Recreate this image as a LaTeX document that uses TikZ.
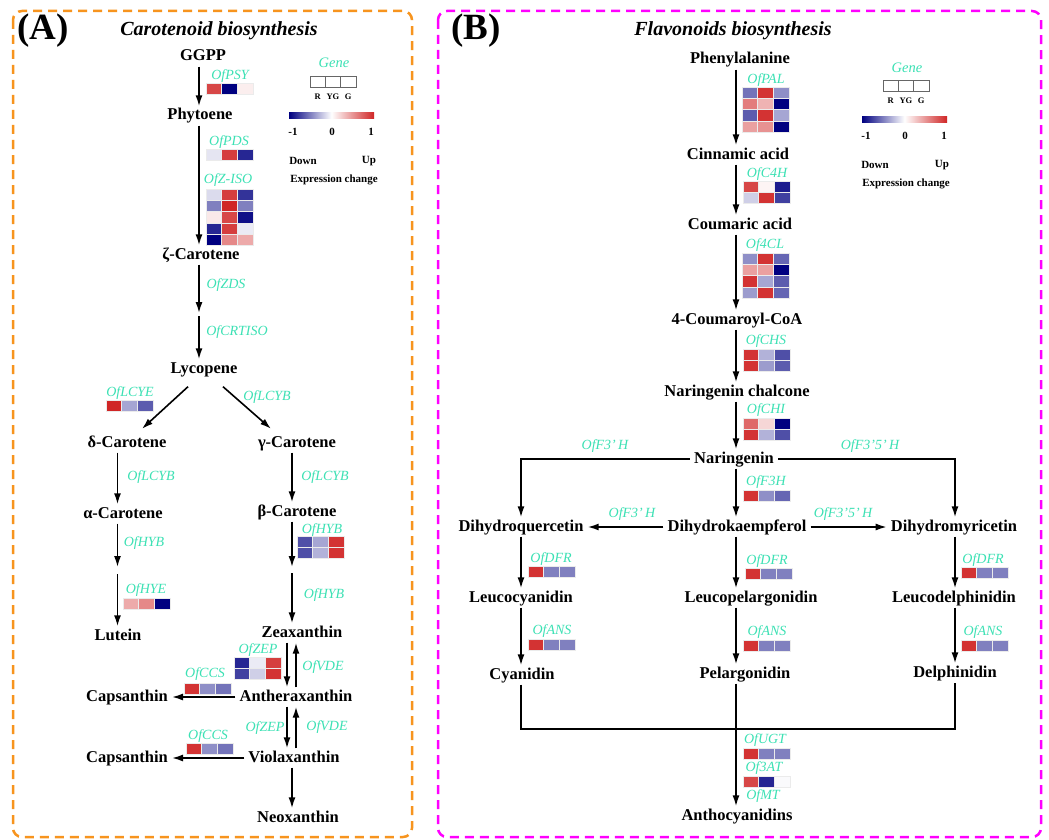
\documentclass[tikz,border=0pt]{standalone}
\usepackage{fontspec}
\setmainfont{Liberation Serif}
\usetikzlibrary{arrows.meta,calc}
\definecolor{hi}{RGB}{208,38,38}
\definecolor{lo}{RGB}{0,0,128}
\definecolor{genecol}{RGB}{60,225,180}
\definecolor{orangeB}{RGB}{247,148,30}
\definecolor{magB}{RGB}{255,0,255}
\newcommand\heatmap[3]{%
  \foreach \hrow [count=\hr from 0] in {#3} {%
    \foreach \hv [count=\hc from 0] in \hrow {%
      \pgfmathsetmacro\hx{#1+\hc*15.6}%
      \pgfmathsetmacro\hy{#2+\hr*11.3}%
      \pgfmathtruncatemacro\hp{abs(\hv)*100}%
      \pgfmathtruncatemacro\hneg{\hv<0 ? 1 : 0}%
      \ifnum\hneg=1 \def\hcol{lo}\else\def\hcol{hi}\fi
      \fill[fill=\hcol!\hp!white] (\hx,\hy) rectangle ++(15.6,11.3);
      \draw[black!8,line width=0.4pt] (\hx,\hy) rectangle ++(15.6,11.3);
    }%
  }%
}
\begin{document}
\begin{tikzpicture}[x=1pt,y=-1pt,
  met/.style={font=\fontsize{16.5}{18}\selectfont\bfseries, inner xsep=4pt, inner ysep=2pt, text height=11.5pt, text depth=3.5pt},
  gene/.style={font=\fontsize{14}{16}\selectfont\itshape, text=genecol, inner sep=0pt},
  leg/.style={font=\fontsize{11}{13}\selectfont\bfseries, inner sep=0pt},
  tiny/.style={font=\fontsize{8.5}{10}\selectfont\bfseries, inner sep=0pt},
  ttl/.style={font=\fontsize{20}{22}\selectfont\bfseries\itshape, inner sep=0pt},
  panel/.style={font=\fontsize{37}{40}\selectfont\bfseries, inner sep=0pt},
  arr/.style={-{Latex[length=11pt,width=7pt]}, line width=1.6pt},
  ln/.style={line width=1.6pt},
  frame/.style={dash pattern=on 9pt off 6pt, line width=2.5pt, rounded corners=9pt}
]
\useasboundingbox (0,0) rectangle (1049,840);
\fill[white] (0,0) rectangle (1049,840);

% frames
\draw[frame, orangeB] (13,11) rectangle (412,837);
\draw[frame, magB] (438,11) rectangle (1041,837);

% ---------------- Panel A ----------------
\node[panel] (pA) at (43,31) {(A)};
\node[ttl] (tA) at (219,31) {Carotenoid biosynthesis};

\node[met] (ggpp) at (203,57) {GGPP};
\node[met] (phyt) at (200,116) {Phytoene};
\node[met] (zcar) at (201,255) {ζ-Carotene};
\node[met] (lyco) at (204,369) {Lycopene};
\node[met] (dcar) at (127,443) {δ-Carotene};
\node[met] (gcar) at (297,443) {γ-Carotene};
\node[met] (acar) at (123,514) {α-Carotene};
\node[met] (bcar) at (297,512) {β-Carotene};
\node[met] (lut) at (118,636) {Lutein};
\node[met] (zea) at (302,633) {Zeaxanthin};
\node[met] (cap1) at (127,697) {Capsanthin};
\node[met] (anth) at (296,697) {Antheraxanthin};
\node[met] (cap2) at (127,758) {Capsanthin};
\node[met] (viol) at (294,758) {Violaxanthin};
\node[met] (neo) at (298,818) {Neoxanthin};

\coordinate (cA) at (199,0);
\coordinate (cL) at (117.5,0);
\coordinate (cR) at (292,0);
\coordinate (cZd) at (287,0);
\coordinate (cZu) at (296,0);
\coordinate (zm1) at (199,313);
\coordinate (zm2) at (199,316);
\coordinate (am1) at (117.5,567);
\coordinate (am2) at (117.5,574);
\coordinate (bm1) at (292,567);
\coordinate (bm2) at (292,573);

\draw[arr] (ggpp.south -| cA) -- (phyt.north -| cA);
\draw[arr] (phyt.south -| cA) -- (zcar.north -| cA);
\draw[arr] (zcar.south -| cA) -- (zm1);
\draw[arr] (zm2) -- (lyco.north -| cA);
\draw[arr] ($(lyco.south)+(-16,8)$) -- ($(dcar.north)+(15,-4.5)$);
\draw[arr] ($(lyco.south)+(19,8)$) -- ($(gcar.north)+(-26,-4.5)$);
\draw[arr] (dcar.south -| cL) -- (acar.north -| cL);
\draw[arr] (gcar.south -| cR) -- (bcar.north -| cR);
\draw[arr] (acar.south -| cL) -- (am1);
\draw[arr] (am2) -- (lut.north -| cL);
\draw[arr] (bcar.south -| cR) -- (bm1);
\draw[arr] (bm2) -- (zea.north -| cR);
\draw[arr] (zea.south -| cZd) -- (anth.north -| cZd);
\draw[arr] (anth.north -| cZu) -- (zea.south -| cZu);
\draw[arr] (anth.west) -- (cap1.east);
\draw[arr] (anth.south -| cZd) -- (viol.north -| cZd);
\draw[arr] (viol.north -| cZu) -- (anth.south -| cZu);
\draw[arr] (viol.west) -- (cap2.east);
\draw[arr] (viol.south -| cR) -- (neo.north -| cR);

\node[gene] (gPSY) at (230,76) {OfPSY};
\heatmap{206}{83}{{0.85,-1,0.08}}
\node[gene] (gPDS) at (229,142) {OfPDS};
\heatmap{206}{149}{{-0.1,0.9,-0.85}}
\node[gene] (gZISO) at (228,180) {OfZ-ISO};
\heatmap{206}{189}{{-0.15,0.9,-0.8},{-0.5,1,-0.5},{0.1,0.85,-0.95},{-0.85,0.9,-0.08},{-1,0.55,0.4}}
\node[gene] (gZDS) at (226,285) {OfZDS};
\node[gene] (gCRT) at (237,332) {OfCRTISO};
\node[gene] (gLCYE) at (130,393) {OfLCYE};
\heatmap{106}{400}{{1,-0.35,-0.65}}
\node[gene] (gLCYB1) at (267,397) {OfLCYB};
\node[gene] (gLCYB2) at (151,477) {OfLCYB};
\node[gene] (gLCYB3) at (325,477) {OfLCYB};
\node[gene] (gHYB1) at (144,543) {OfHYB};
\node[gene] (gHYB2) at (322,530) {OfHYB};
\heatmap{297}{536}{{-0.7,-0.35,0.95},{-0.7,-0.3,0.95}}
\node[gene] (gHYE) at (146,590) {OfHYE};
\heatmap{123}{598}{{0.4,0.55,-1}}
\node[gene] (gHYB3) at (324,595) {OfHYB};
\node[gene] (gZEP1) at (258,650) {OfZEP};
\heatmap{234}{657}{{-0.85,-0.08,0.9},{-0.75,-0.2,0.95}}
\node[gene] (gVDE1) at (323,667) {OfVDE};
\node[gene] (gCCS1) at (205,674) {OfCCS};
\heatmap{184}{683}{{0.95,-0.45,-0.55}}
\node[gene] (gZEP2) at (265,728) {OfZEP};
\node[gene] (gVDE2) at (327,727) {OfVDE};
\node[gene] (gCCS2) at (208,736) {OfCCS};
\heatmap{186}{743}{{0.95,-0.45,-0.55}}

% legend A
\node[gene, font=\fontsize{14.5}{16}\selectfont\itshape] (legGA) at (334,63) {Gene};
\foreach \i in {0,1,2} \draw[black!60, line width=0.7pt] (310+\i*15.3,76) rectangle ++(15.3,11);
\node[tiny] (lRA) at (317.6,97) {R};
\node[tiny] (lYA) at (332.9,97) {YG};
\node[tiny] (lGA) at (348.2,97) {G};
\shade[left color=lo, right color=hi, middle color=white] (289,113) rectangle (374,119);
\node[leg] (m1A) at (293,132) {-1};
\node[leg] (z0A) at (332,132) {0};
\node[leg] (p1A) at (371,132) {1};
\node[leg] (dnA) at (303,161) {Down};
\node[leg] (upA) at (369,161) {Up};
\node[leg] (exA) at (334,180) {Expression change};

% ---------------- Panel B ----------------
\node[panel] (pB) at (476,31) {(B)};
\node[ttl] (tB) at (733,31) {Flavonoids biosynthesis};

\node[met] (phe) at (740,60) {Phenylalanine};
\node[met] (cin) at (738,155) {Cinnamic acid};
\node[met] (cou) at (740,225) {Coumaric acid};
\node[met] (cca) at (737,320) {4-Coumaroyl-CoA};
\node[met] (nch) at (737,392) {Naringenin chalcone};
\node[met] (nar) at (734,459) {Naringenin};
\node[met] (dq) at (521,527) {Dihydroquercetin};
\node[met] (dk) at (737,527) {Dihydrokaempferol};
\node[met] (dm) at (954,527) {Dihydromyricetin};
\node[met] (lc) at (521,598) {Leucocyanidin};
\node[met] (lp) at (751,598) {Leucopelargonidin};
\node[met] (ld) at (954,598) {Leucodelphinidin};
\node[met] (cy) at (522,675) {Cyanidin};
\node[met] (pe) at (745,674) {Pelargonidin};
\node[met] (de) at (955,673) {Delphinidin};
\node[met] (ant) at (737,816) {Anthocyanidins};

\coordinate (cM) at (736,0);
\coordinate (cBL) at (521,0);
\coordinate (cBR) at (955,0);
\coordinate (jy) at (0,729);

\draw[arr] (phe.south -| cM) -- (cin.north -| cM);
\draw[arr] (cin.south -| cM) -- (cou.north -| cM);
\draw[arr] (cou.south -| cM) -- (cca.north -| cM);
\draw[arr] (cca.south -| cM) -- (nch.north -| cM);
\draw[arr] (nch.south -| cM) -- (nar.north -| cM);
\draw[arr] (nar.west) -| (dq.north);
\draw[arr] (nar.east) -| (dm.north -| cBR);
\draw[arr] (nar.south -| cM) -- (dk.north -| cM);
\draw[arr] (dk.west) -- (dq.east);
\draw[arr] (dk.east) -- (dm.west);
\draw[arr] (dq.south -| cBL) -- (lc.north -| cBL);
\draw[arr] (dk.south -| cM) -- (lp.north -| cM);
\draw[arr] (dm.south -| cBR) -- (ld.north -| cBR);
\draw[arr] (lc.south -| cBL) -- (cy.north -| cBL);
\draw[arr] (lp.south -| cM) -- (pe.north -| cM);
\draw[arr] (ld.south -| cBR) -- (de.north -| cBR);
\draw[ln] (cy.south -| cBL) -- (cBL |- jy) -- (cBR |- jy) -- (de.south -| cBR);
\draw[arr] (pe.south -| cM) -- (ant.north -| cM);

\node[gene] (gPAL) at (766,80) {OfPAL};
\heatmap{742}{87}{{-0.55,0.95,-0.45},{0.6,0.35,-1},{-0.65,0.95,-0.35},{0.45,0.5,-1}}
\node[gene] (gC4H) at (767,174) {OfC4H};
\heatmap{743}{181}{{0.85,0.05,-0.9},{-0.2,0.95,-0.75}}
\node[gene] (g4CL) at (765,245) {Of4CL};
\heatmap{742}{253}{{-0.45,0.95,-0.6},{0.45,0.45,-1},{0.95,-0.35,-0.65},{-0.4,0.95,-0.6}}
\node[gene] (gCHS) at (766,341) {OfCHS};
\heatmap{743}{349}{{0.95,-0.3,-0.7},{0.95,-0.4,-0.65}}
\node[gene] (gCHI) at (766,410) {OfCHI};
\heatmap{743}{418}{{0.7,0.2,-1},{0.95,-0.3,-0.7}}
\node[gene] (gF3pH1) at (605,446) {OfF3’\,H};
\node[gene] (gF35H1) at (870,446) {OfF3’5’\,H};
\node[gene] (gF3H) at (766,482) {OfF3H};
\heatmap{743}{490}{{0.95,-0.45,-0.6}}
\node[gene] (gF3pH2) at (632,514) {OfF3’\,H};
\node[gene] (gF35H2) at (843,514) {OfF3’5’\,H};
\node[gene] (gDFR1) at (551,559) {OfDFR};
\heatmap{528}{566}{{0.95,-0.5,-0.5}}
\node[gene] (gDFR2) at (767,561) {OfDFR};
\heatmap{745}{568}{{0.95,-0.5,-0.5}}
\node[gene] (gDFR3) at (983,560) {OfDFR};
\heatmap{961}{567}{{0.95,-0.5,-0.5}}
\node[gene] (gANS1) at (552,631) {OfANS};
\heatmap{528}{639}{{0.95,-0.5,-0.5}}
\node[gene] (gANS2) at (767,632) {OfANS};
\heatmap{743}{640}{{0.95,-0.5,-0.5}}
\node[gene] (gANS3) at (983,632) {OfANS};
\heatmap{961}{640}{{0.95,-0.5,-0.5}}
\node[gene] (gUGT) at (765,740) {OfUGT};
\heatmap{743}{748}{{0.95,-0.5,-0.5}}
\node[gene] (g3AT) at (764,768) {Of3AT};
\heatmap{743}{776}{{0.85,-0.85,-0.03}}
\node[gene] (gMT) at (763,796) {OfMT};

% legend B
\node[gene, font=\fontsize{14.5}{16}\selectfont\itshape] (legGB) at (907,68) {Gene};
\foreach \i in {0,1,2} \draw[black!60, line width=0.7pt] (883+\i*15.3,80) rectangle ++(15.3,11);
\node[tiny] (lRB) at (890.6,101) {R};
\node[tiny] (lYB) at (905.9,101) {YG};
\node[tiny] (lGB) at (921.2,101) {G};
\shade[left color=lo, right color=hi, middle color=white] (862,117) rectangle (947,123);
\node[leg] (m1B) at (866,136) {-1};
\node[leg] (z0B) at (905,136) {0};
\node[leg] (p1B) at (944,136) {1};
\node[leg] (dnB) at (875,165) {Down};
\node[leg] (upB) at (942,165) {Up};
\node[leg] (exB) at (906,184) {Expression change};
\end{tikzpicture}
\end{document}
